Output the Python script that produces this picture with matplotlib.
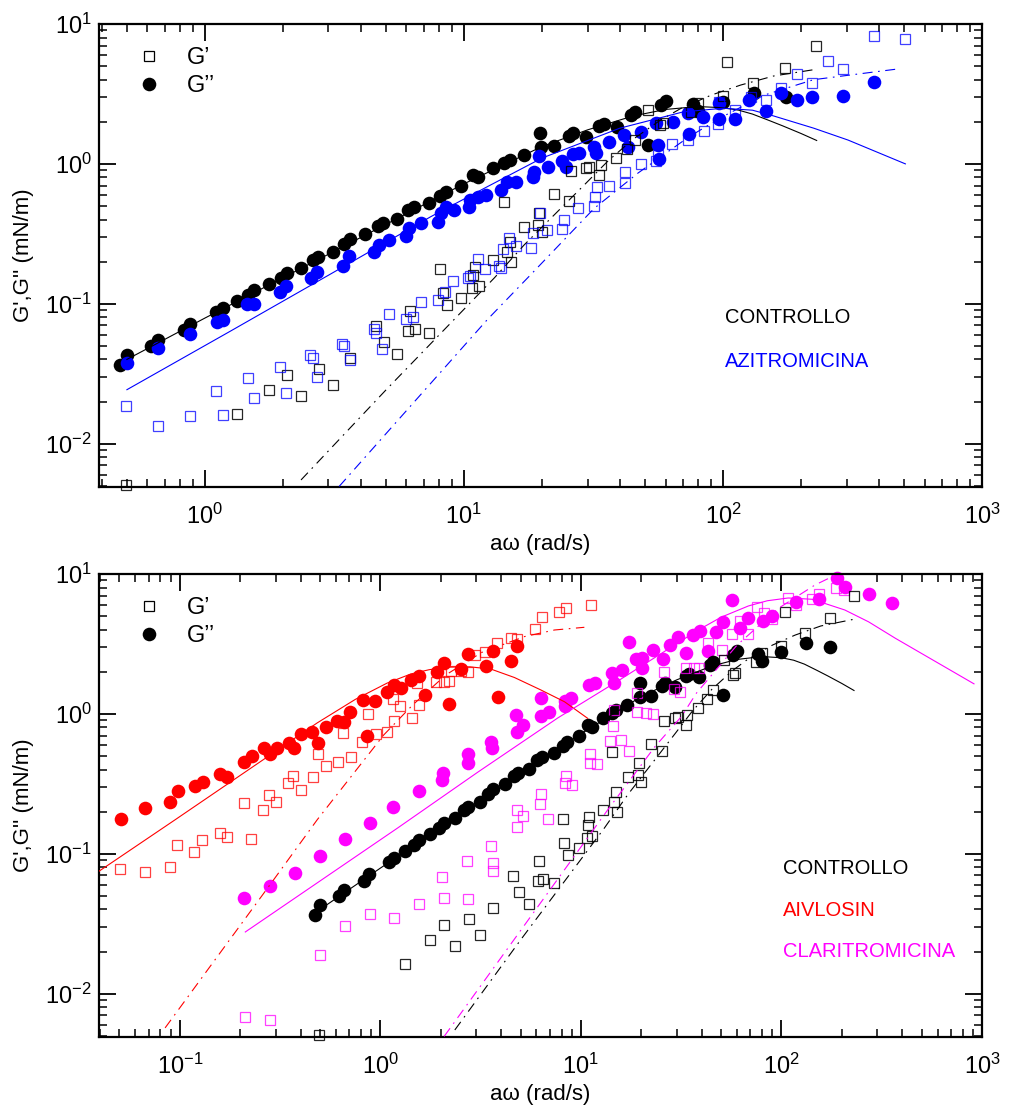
import numpy as np
import matplotlib
matplotlib.use("Agg")
import matplotlib.pyplot as plt
from matplotlib.lines import Line2D
from matplotlib.ticker import LogLocator, NullFormatter

plt.rcParams['font.family'] = ['Liberation Sans', 'DejaVu Sans']
plt.rcParams['mathtext.fontset'] = 'custom'
plt.rcParams['mathtext.rm'] = 'Liberation Sans'
plt.rcParams['mathtext.it'] = 'Liberation Sans:italic'

# ---- CONTROLLO (same sample shown in both panels) ----
ctrl_gpp_x = [0.471, 0.50, 0.622, 0.66, 0.828, 0.877, 1.10, 1.17, 1.33, 1.47, 1.55, 1.77, 1.96, 2.08, 2.35,
              2.61, 2.74, 3.13, 3.45, 3.64, 4.16, 4.64, 4.85, 5.51, 6.06, 6.43, 7.35, 8.10, 8.53, 9.73,
              10.8, 11.3, 12.9, 14.3, 15.0, 17.0, 19.7, 19.8, 22.3, 25.5, 26.3, 29.6, 33.3, 34.6, 39.0,
              44.2, 45.7, 51.2, 57.6, 60.3, 76.4, 79.8, 99.7, 132, 175]
ctrl_gpp_y = [0.0367, 0.0428, 0.0501, 0.0547, 0.0644, 0.072, 0.0873, 0.0932, 0.104, 0.116, 0.125, 0.138, 0.154,
              0.166, 0.180, 0.205, 0.216, 0.234, 0.268, 0.290, 0.315, 0.362, 0.377, 0.405, 0.469, 0.495,
              0.529, 0.591, 0.634, 0.697, 0.834, 0.804, 0.932, 1.01, 1.07, 1.15, 1.66, 1.33, 1.35, 1.57,
              1.66, 1.55, 1.87, 1.93, 1.85, 2.24, 2.34, 1.37, 2.64, 2.83, 2.68, 2.40, 2.79, 3.20, 3.03]
ctrl_gp_x = [0.495, 1.33, 1.77, 2.07, 2.35, 2.76, 3.13, 3.64, 4.57, 4.90, 5.51, 6.10, 6.21, 6.47, 7.35, 8.10,
             8.27, 8.63, 9.73, 10.7, 10.8, 11.0, 11.4, 12.9, 14.3, 14.6, 15.0, 15.2, 17.1, 19.3, 19.5, 20.0,
             22.3, 25.5, 25.9, 29.6, 30.5, 33.3, 33.9, 38.5, 42.7, 45.7, 51.5, 57.0, 58.7, 75.0, 79.8, 99.7,
             104, 131, 174, 229]
ctrl_gp_y = [0.0051, 0.0164, 0.0243, 0.0308, 0.0218, 0.0343, 0.0262, 0.0407, 0.0690, 0.0529, 0.0435, 0.0634,
             0.0894, 0.0663, 0.0620, 0.177, 0.120, 0.0984, 0.110, 0.130, 0.161, 0.184, 0.135, 0.206, 0.538,
             0.236, 0.278, 0.200, 0.355, 0.367, 0.449, 0.328, 0.605, 0.544, 0.894, 0.932, 0.957, 0.834,
             0.984, 1.10, 1.27, 1.48, 2.43, 1.91, 1.95, 2.34, 2.71, 3.05, 5.38, 3.80, 4.85, 6.98]
ctrl_fit_gpp_x = [0.5, 1, 3, 10, 20, 30, 45, 60, 80, 100, 115, 130, 150, 170, 200, 230]
ctrl_fit_gpp_y = [0.040, 0.079, 0.226, 0.72, 1.33, 1.75, 2.2, 2.45, 2.57, 2.52, 2.42, 2.27, 2.05, 1.87, 1.65, 1.47]
ctrl_fit_gp_x = [2.35, 5, 13.1, 17.1, 29.6, 36, 45, 57, 69, 90, 117, 157, 230]
ctrl_fit_gp_y = [0.0055, 0.0242, 0.153, 0.264, 0.728, 1.05, 1.50, 2.04, 2.5, 3.1, 3.66, 4.25, 4.75]

# ---- AZITROMICINA ----
azi_gpp_x = [0.50, 0.66, 0.877, 1.11, 1.17, 1.46, 1.55, 1.95, 2.06, 2.57, 2.72, 3.40, 3.61, 4.51, 4.71, 5.15,
             5.97, 6.15, 6.82, 7.91, 8.15, 8.52, 9.13, 10.5, 10.6, 11.3, 12.2, 13.9, 14.7, 15.9, 18.4, 18.7,
             19.5, 21.1, 24.0, 24.8, 26.3, 27.9, 31.8, 32.3, 36.4, 41.6, 42.9, 48.2, 55.1, 56.0, 56.8, 63.9,
             73.1, 74.1, 83.5, 96.8, 96.8, 111, 126, 147, 167, 193, 220, 290, 384]
azi_gpp_y = [0.0377, 0.0483, 0.0610, 0.0735, 0.0769, 0.0989, 0.0989, 0.121, 0.135, 0.153, 0.169, 0.187, 0.218,
             0.236, 0.264, 0.286, 0.303, 0.347, 0.377, 0.381, 0.445, 0.495, 0.469, 0.495, 0.553, 0.584, 0.601,
             0.652, 0.748, 0.748, 0.811, 0.881, 1.13, 0.947, 1.04, 0.957, 1.18, 1.19, 1.33, 1.19, 1.44, 1.61,
             1.33, 1.70, 1.95, 1.37, 1.08, 2.00, 2.30, 1.64, 2.18, 2.71, 2.10, 2.10, 2.87, 2.40, 3.20, 2.87,
             3.03, 3.08, 3.83]
azi_gp_x = [0.495, 0.66, 0.877, 1.10, 1.17, 1.47, 1.55, 1.95, 2.06, 2.55, 2.61, 2.72, 3.38, 3.45, 3.64, 4.51,
            4.57, 4.82, 5.15, 5.97, 6.35, 6.84, 7.94, 8.43, 9.04, 10.4, 10.6, 11.3, 12.1, 13.7, 13.9, 14.2,
            14.9, 15.9, 18.1, 18.4, 19.7, 21.0, 24.0, 24.3, 27.6, 31.7, 32.0, 32.5, 36.4, 41.8, 42.0, 48.2,
            55.1, 56.0, 63.4, 73.4, 84.2, 95.9, 96.8, 111, 128, 146, 167, 193, 220, 254, 290, 384, 506]
azi_gp_y = [0.0185, 0.0134, 0.0158, 0.0239, 0.0161, 0.0295, 0.0212, 0.0353, 0.0230, 0.0427, 0.0407, 0.0299,
            0.0516, 0.0496, 0.0398, 0.0655, 0.0618, 0.0475, 0.0839, 0.0778, 0.0807, 0.103, 0.106, 0.122,
            0.146, 0.153, 0.158, 0.209, 0.178, 0.185, 0.180, 0.247, 0.295, 0.257, 0.250, 0.320, 0.445, 0.338,
            0.342, 0.398, 0.483, 0.501, 0.584, 0.688, 0.697, 0.728, 0.881, 1.00, 1.04, 1.16, 1.39, 1.48,
            1.73, 1.93, 2.79, 2.43, 2.99, 2.87, 3.47, 4.39, 3.77, 5.47, 4.75, 8.25, 7.81]
azi_fit_gpp_x = [0.5, 1.26, 3, 7.46, 12, 20, 40, 70, 100, 130, 157, 224, 304, 506]
azi_fit_gpp_y = [0.0243, 0.064, 0.16, 0.42, 0.67, 1.1, 1.8, 2.35, 2.5, 2.42, 2.2, 1.80, 1.48, 1.0]
azi_fit_gp_x = [3.30, 12.3, 18.6, 31.8, 47, 73.5, 98.5, 144, 224, 473]
azi_fit_gp_y = [0.00495, 0.0769, 0.17, 0.48, 0.86, 1.55, 2.15, 3.1, 4.0, 4.77]

# ---- AIVLOSIN ----
aiv_gpp_x = [0.0507, 0.0671, 0.0888, 0.0974, 0.119, 0.130, 0.158, 0.172, 0.208, 0.229, 0.262, 0.281, 0.305,
             0.350, 0.370, 0.403, 0.457, 0.488, 0.537, 0.605, 0.658, 0.706, 0.819, 0.861, 0.941, 1.08, 1.17,
             1.26, 1.42, 1.55, 1.66, 1.92, 2.07, 2.21, 2.52, 2.72, 3.36, 3.63, 3.87, 4.46, 4.82]
aiv_gpp_y = [0.178, 0.212, 0.236, 0.279, 0.303, 0.328, 0.373, 0.351, 0.456, 0.501, 0.574, 0.515, 0.574, 0.618,
             0.569, 0.716, 0.748, 0.618, 0.804, 0.891, 0.881, 1.04, 1.26, 0.697, 1.24, 1.44, 1.61, 1.53, 1.75,
             1.88, 1.37, 2.00, 2.33, 1.18, 2.10, 2.70, 2.21, 2.82, 1.33, 2.39, 3.07]
aiv_gp_x = [0.0503, 0.0671, 0.0888, 0.0970, 0.118, 0.129, 0.158, 0.172, 0.208, 0.227, 0.260, 0.277, 0.303,
            0.348, 0.368, 0.403, 0.462, 0.489, 0.533, 0.612, 0.710, 0.649, 0.813, 0.864, 0.947, 1.08, 1.17,
            1.15, 1.25, 1.43, 1.56, 1.53, 1.89, 2.07, 2.21, 2.25, 2.52, 2.73, 2.95, 3.32, 3.81, 4.46, 4.82,
            5.89, 6.37, 7.81, 8.45, 11.2]
aiv_gp_y = [0.0778, 0.0738, 0.0798, 0.116, 0.103, 0.126, 0.141, 0.131, 0.230, 0.128, 0.206, 0.262, 0.236, 0.323,
            0.362, 0.286, 0.354, 0.515, 0.427, 0.452, 0.493, 0.728, 0.628, 0.995, 0.720, 0.748, 0.894, 1.28,
            1.14, 0.932, 1.16, 1.67, 1.69, 1.69, 1.72, 2.04, 2.04, 2.00, 2.65, 2.79, 3.20, 3.47, 3.42, 4.03,
            4.91, 5.38, 5.69, 6.01]
aiv_fit_gpp_x = [0.0383, 0.0947, 0.484, 0.75, 1.08, 1.42, 1.75, 2.2, 2.8, 3.56, 4.66, 6.33, 8.29, 10.8]
aiv_fit_gpp_y = [0.0728, 0.175, 0.862, 1.27, 1.66, 1.93, 2.07, 2.16, 2.17, 2.09, 1.82, 1.48, 1.22, 0.93]
aiv_fit_gp_x = [0.0844, 0.294, 0.484, 1.04, 1.45, 2.12, 3.2, 5.23, 7.39, 10.4]
aiv_fit_gp_y = [0.00569, 0.0654, 0.175, 0.708, 1.16, 1.90, 2.75, 3.57, 3.98, 4.16]

# ---- CLARITROMICINA ----
cla_gpp_x = [0.210, 0.282, 0.375, 0.498, 0.663, 0.884, 1.16, 1.55, 2.05, 2.04, 2.72, 2.72, 3.58, 3.59, 4.77,
             4.79, 5.16, 6.31, 6.30, 6.90, 8.32, 8.35, 8.94, 11.0, 11.8, 14.3, 14.7, 16.0, 17.3, 18.8, 20.2,
             20.2, 22.8, 25.6, 27.8, 30.4, 33.6, 36.3, 39.2, 43.2, 47.2, 51.3, 56.9, 62.2, 67.9, 81.3, 89.4,
             118, 154, 189, 207, 272, 356]
cla_gpp_y = [0.0481, 0.0584, 0.0728, 0.0968, 0.127, 0.166, 0.215, 0.279, 0.381, 0.338, 0.518, 0.445, 0.626,
             0.569, 0.989, 0.744, 0.834, 1.29, 0.968, 1.04, 1.23, 1.13, 1.30, 1.61, 1.66, 1.95, 1.66, 2.07,
             3.27, 2.47, 2.12, 2.50, 2.84, 2.46, 3.13, 3.54, 2.74, 3.65, 3.92, 2.82, 3.83, 4.52, 6.52, 4.13,
             4.83, 4.62, 5.04, 6.28, 6.60, 9.41, 8.11, 7.20, 6.18]
cla_gp_x = [0.212, 0.283, 0.497, 0.663, 0.884, 1.17, 1.56, 2.03, 2.07, 2.73, 2.70, 3.58, 3.64, 3.64, 4.80, 5.13,
            4.80, 6.27, 6.30, 6.85, 8.35, 8.45, 9.05, 11.1, 11.1, 12.0, 13.9, 15.8, 17.3, 14.5, 14.7, 19.1,
            21.0, 22.8, 19.1, 26.0, 29.2, 31.2, 33.6, 36.7, 38.8, 43.2, 50.7, 56.9, 67.9, 62.2, 75.2, 82.2,
            89.4, 108, 118, 142, 154, 187, 204]
cla_gp_y = [0.00677, 0.00652, 0.0188, 0.0306, 0.0371, 0.0347, 0.0437, 0.0685, 0.0480, 0.0475, 0.0891, 0.113,
            0.0865, 0.0750, 0.205, 0.186, 0.155, 0.228, 0.267, 0.178, 0.320, 0.357, 0.311, 0.513, 0.445, 0.437,
            0.641, 0.647, 0.544, 0.824, 1.06, 1.03, 1.02, 0.997, 1.41, 1.98, 1.51, 1.43, 2.14, 2.12, 2.14,
            3.20, 2.87, 3.71, 3.71, 4.62, 5.84, 5.29, 4.77, 6.70, 6.01, 6.59, 7.20, 7.91, 7.69]
cla_fit_gpp_x = [0.212, 1.22, 3.05, 7.67, 15.3, 38.5, 50, 68.4, 85, 108, 142, 207, 272, 370, 912]
cla_fit_gpp_y = [0.0276, 0.153, 0.382, 0.936, 1.72, 3.98, 4.91, 5.91, 6.44, 6.74, 6.6, 5.53, 4.55, 3.47, 1.64]
cla_fit_gp_x = [2.08, 13.6, 23.4, 31.7, 37.7, 60, 96.6, 147, 189]
cla_fit_gp_y = [0.00495, 0.206, 0.584, 0.957, 1.41, 3.1, 5.69, 8.35, 9.95]

BLACK = 'black'
BLUE = '#0000ff'
RED = '#ff0000'
MAGENTA = '#ff00ff'
DASHDOT = (0, (9, 5, 1.5, 5))


def draw_sample(ax, gp_x, gp_y, gpp_x, gpp_y, fgp_x, fgp_y, fgpp_x, fgpp_y, color, sq_alpha=0.85):
    ax.plot(gpp_x, gpp_y, 'o', color=color, ms=9.8, mew=0, clip_on=False, zorder=2)
    ax.plot(gp_x, gp_y, 's', mfc='none', mec=color, ms=7.4, mew=0.9, alpha=sq_alpha,
            clip_on=False, zorder=3)
    ax.plot(fgpp_x, fgpp_y, '-', color=color, lw=0.8, zorder=4)
    ax.plot(fgp_x, fgp_y, color=color, lw=0.8, ls=DASHDOT, zorder=4)


def style_axes(ax, xmin):
    ax.set_xscale('log')
    ax.set_yscale('log')
    ax.set_xlim(xmin, 1000)
    ax.set_ylim(0.0049, 10)
    for axis in (ax.xaxis, ax.yaxis):
        axis.set_major_locator(LogLocator(base=10, numticks=12))
        axis.set_minor_locator(LogLocator(base=10, subs=np.arange(2, 10), numticks=12))
        axis.set_minor_formatter(NullFormatter())
    ax.tick_params(which='both', direction='in', top=True, right=True)
    ax.tick_params(which='major', length=12, width=1.3, labelsize=17)
    ax.tick_params(which='minor', length=6, width=1.1)
    ax.tick_params(axis='x', which='major', pad=12)
    ax.tick_params(axis='y', which='major', pad=5)
    for sp in ax.spines.values():
        sp.set_linewidth(1.6)
    ax.set_xlabel('aω (rad/s)', fontsize=16, labelpad=4)
    ax.set_ylabel("G',G'' (mN/m)", fontsize=16, labelpad=8)
    handles = [Line2D([], [], ls='none', marker='s', mfc='none', mec='k', ms=7.4, mew=0.9),
               Line2D([], [], ls='none', marker='o', color='k', ms=9.8, mew=0)]
    ax.legend(handles, ['G’', 'G’’'], loc='upper left', frameon=False, fontsize=17,
              handlelength=1.0, handletextpad=1.1, labelspacing=0.25,
              borderaxespad=0.3, bbox_to_anchor=(0.025, 0.985))


fig = plt.figure(figsize=(10.15, 11.06), dpi=100)
ax1 = fig.add_axes([0.0975, 0.5597, 0.870, 0.4186])
ax2 = fig.add_axes([0.0975, 0.0624, 0.870, 0.4186])

# top panel: control vs azithromycin
draw_sample(ax1, ctrl_gp_x, ctrl_gp_y, ctrl_gpp_x, ctrl_gpp_y,
            ctrl_fit_gp_x, ctrl_fit_gp_y, ctrl_fit_gpp_x, ctrl_fit_gpp_y, BLACK)
draw_sample(ax1, azi_gp_x, azi_gp_y, azi_gpp_x, azi_gpp_y,
            azi_fit_gp_x, azi_fit_gp_y, azi_fit_gpp_x, azi_fit_gpp_y, BLUE, sq_alpha=0.75)
style_axes(ax1, 0.39)
ax1.text(0.709, 0.367, 'CONTROLLO', color=BLACK, fontsize=14.5, va='center', transform=ax1.transAxes)
ax1.text(0.709, 0.272, 'AZITROMICINA', color=BLUE, fontsize=14.5, va='center', transform=ax1.transAxes)

# bottom panel: control vs aivlosin vs clarithromycin
draw_sample(ax2, aiv_gp_x, aiv_gp_y, aiv_gpp_x, aiv_gpp_y,
            aiv_fit_gp_x, aiv_fit_gp_y, aiv_fit_gpp_x, aiv_fit_gpp_y, RED, sq_alpha=0.75)
draw_sample(ax2, cla_gp_x, cla_gp_y, cla_gpp_x, cla_gpp_y,
            cla_fit_gp_x, cla_fit_gp_y, cla_fit_gpp_x, cla_fit_gpp_y, MAGENTA, sq_alpha=0.75)
draw_sample(ax2, ctrl_gp_x, ctrl_gp_y, ctrl_gpp_x, ctrl_gpp_y,
            ctrl_fit_gp_x, ctrl_fit_gp_y, ctrl_fit_gpp_x, ctrl_fit_gpp_y, BLACK)
style_axes(ax2, 0.0395)
ax2.text(0.775, 0.365, 'CONTROLLO', color=BLACK, fontsize=14.5, va='center', transform=ax2.transAxes)
ax2.text(0.775, 0.274, 'AIVLOSIN', color=RED, fontsize=14.5, va='center', transform=ax2.transAxes)
ax2.text(0.775, 0.184, 'CLARITROMICINA', color=MAGENTA, fontsize=14.5, va='center', transform=ax2.transAxes)

fig.savefig('out.png', dpi=100)
